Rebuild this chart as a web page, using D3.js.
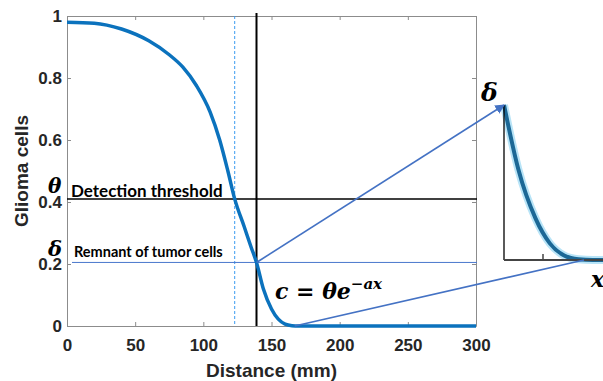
<!DOCTYPE html>
<html>
<head>
<meta charset="utf-8">
<script src="https://cdn.jsdelivr.net/npm/d3@7/dist/d3.min.js"></script>
<style>
  body { margin: 0; background: #fff; }
  svg { display: block; }
  .tick text { font-family: Arial, "Liberation Sans", sans-serif; font-weight: bold; font-size: 17px; fill: #262626; }
</style>
</head>
<body>
<div id="chart"></div>
<script>
// curve: distance (mm) vs glioma cells
const distance = [0, 20, 40, 60, 75, 85, 95, 105, 112, 118, 123, 130, 135, 139, 144, 150, 155, 160, 165, 170, 200, 250, 300];
const cells    = [0.98, 0.977, 0.958, 0.92, 0.875, 0.835, 0.775, 0.69, 0.6, 0.5, 0.41, 0.32, 0.255, 0.205, 0.12, 0.055, 0.022, 0.006, 0.001, 0, 0, 0, 0];
const xTicks = [0, 50, 100, 150, 200, 250, 300];
const yTicks = [0, 0.2, 0.4, 0.6, 0.8, 1];
const theta = 0.41;      // detection threshold
const delta = 0.205;     // remnant of tumor cells
const xDetect = 123;     // dashed line
const xResect = 139;     // black line
const xZero = 167;       // where the curve reaches zero

const W = 603, H = 381;
const m = { left: 67, right: 476, top: 16, bottom: 326 };

const svg = d3.select("#chart").append("svg")
    .attr("width", W).attr("height", H);

const x = d3.scaleLinear().domain([0, 300]).range([m.left, m.right]);
const y = d3.scaleLinear().domain([0, 1]).range([m.bottom, m.top]);

const data = distance.map((d, i) => ({ x: d, y: cells[i] }));

// axes, MATLAB box style with inward ticks
const axisStyle = g => {
    g.select(".domain").attr("stroke", "#8c8c8c").attr("stroke-width", 1);
    g.selectAll(".tick line").attr("stroke", "#8c8c8c");
};
svg.append("g").attr("transform", `translate(0,${m.bottom})`)
    .call(d3.axisBottom(x).tickValues(xTicks).tickSizeInner(-4).tickSizeOuter(0).tickPadding(13))
    .call(axisStyle);
svg.append("g").attr("transform", `translate(${m.left},0)`)
    .call(d3.axisLeft(y).tickValues(yTicks).tickFormat(d3.format("")).tickSizeInner(-4).tickSizeOuter(0).tickPadding(5))
    .call(axisStyle);
svg.append("g").attr("transform", `translate(0,${m.top})`)
    .call(d3.axisTop(x).tickValues(xTicks).tickFormat("").tickSizeInner(-4).tickSizeOuter(0))
    .call(axisStyle);
svg.append("g").attr("transform", `translate(${m.right},0)`)
    .call(d3.axisRight(y).tickValues(yTicks).tickFormat("").tickSizeInner(-4).tickSizeOuter(0))
    .call(axisStyle);

// axis titles
svg.append("text")
    .attr("x", (m.left + m.right) / 2).attr("y", 377)
    .attr("text-anchor", "middle")
    .style("font-family", "Arial, 'Liberation Sans', sans-serif")
    .style("font-weight", "bold").style("font-size", "19px").attr("fill", "#262626")
    .text("Distance (mm)");
svg.append("text")
    .attr("transform", `translate(28,${(m.top + m.bottom) / 2}) rotate(-90)`)
    .attr("text-anchor", "middle")
    .style("font-family", "Arial, 'Liberation Sans', sans-serif")
    .style("font-weight", "bold").style("font-size", "19px").attr("fill", "#262626")
    .text("Glioma cells");

// reference lines
svg.append("line")
    .attr("x1", x(xDetect)).attr("x2", x(xDetect))
    .attr("y1", m.top).attr("y2", m.bottom)
    .attr("stroke", "#3c9cf0").attr("stroke-width", 1).attr("stroke-dasharray", "3,2");
svg.append("line")
    .attr("x1", x(xResect)).attr("x2", x(xResect))
    .attr("y1", m.top - 3).attr("y2", m.bottom)
    .attr("stroke", "#000").attr("stroke-width", 2);
svg.append("line")
    .attr("x1", m.left).attr("x2", m.right + 1)
    .attr("y1", y(theta)).attr("y2", y(theta))
    .attr("stroke", "#000").attr("stroke-width", 1.5);
svg.append("line")
    .attr("x1", 72).attr("x2", m.right + 1)
    .attr("y1", y(delta)).attr("y2", y(delta))
    .attr("stroke", "#4a78cc").attr("stroke-width", 1);

// the curve
const line = d3.line().x(d => x(d.x)).y(d => y(d.y)).curve(d3.curveMonotoneX);
svg.append("path").datum(data)
    .attr("d", line)
    .attr("fill", "none").attr("stroke", "#0b72bd").attr("stroke-width", 3.5);

// inset: zoom on the tail of the curve
const inset = { left: 504, right: 610, top: 105, bottom: 260 };
const xi = d3.scaleLinear().domain([xResect, 176]).range([inset.left, inset.right]);
const yi = d3.scaleLinear().domain([0, delta]).range([inset.bottom, inset.top]);
const tail = data.filter(d => d.x >= xResect && d.x <= 200);
const insetLine = d3.line().x(d => xi(d.x)).y(d => yi(d.y)).curve(d3.curveMonotoneX);

svg.append("path").datum(tail)
    .attr("d", insetLine)
    .attr("fill", "none").attr("stroke", "#b8e4f7").attr("stroke-width", 8);
svg.append("path").datum(tail)
    .attr("d", insetLine)
    .attr("fill", "none").attr("stroke", "#1c6896").attr("stroke-width", 4);
svg.append("line")
    .attr("x1", inset.left).attr("x2", inset.left)
    .attr("y1", inset.top).attr("y2", inset.bottom)
    .attr("stroke", "#000").attr("stroke-width", 1.3);
svg.append("line")
    .attr("x1", inset.left).attr("x2", W)
    .attr("y1", inset.bottom).attr("y2", inset.bottom)
    .attr("stroke", "#444").attr("stroke-width", 2);
svg.append("line")
    .attr("x1", 543).attr("x2", 543)
    .attr("y1", inset.bottom).attr("y2", inset.bottom - 6)
    .attr("stroke", "#444").attr("stroke-width", 1.5);

// connector arrows
svg.append("defs").append("marker")
    .attr("id", "arrow").attr("viewBox", "0 0 10 10")
    .attr("refX", 9).attr("refY", 5)
    .attr("markerWidth", 6).attr("markerHeight", 6)
    .attr("orient", "auto")
    .append("path").attr("d", "M0,0L10,5L0,10z").attr("fill", "#4472c4");
svg.append("line")
    .attr("x1", x(xResect)).attr("y1", y(delta))
    .attr("x2", inset.left).attr("y2", inset.top)
    .attr("stroke", "#4472c4").attr("stroke-width", 1.6)
    .attr("marker-end", "url(#arrow)");
svg.append("line")
    .attr("x1", x(xZero)).attr("y1", y(0))
    .attr("x2", 584).attr("y2", inset.bottom)
    .attr("stroke", "#4472c4").attr("stroke-width", 1.6);

// annotations
const serif = "'DejaVu Serif', 'Liberation Serif', serif";
const calibri = "Lato, 'Open Sans', sans-serif";
svg.append("text").attr("x", 48).attr("y", 193)
    .style("font-family", serif).style("font-style", "italic").style("font-weight", "bold")
    .style("font-size", "20px").text("θ");
svg.append("text").attr("x", 71).attr("y", 197)
    .style("font-family", calibri).style("font-weight", "bold")
    .style("font-size", "17px").text("Detection threshold");
svg.append("text").attr("x", 48).attr("y", 256)
    .style("font-family", serif).style("font-style", "italic").style("font-weight", "bold")
    .style("font-size", "21px").text("δ");
svg.append("text").attr("x", 74).attr("y", 257)
    .style("font-family", calibri).style("font-weight", "bold")
    .style("font-size", "14.5px").text("Remnant of tumor cells");

const eq = svg.append("text").attr("x", 275).attr("y", 299)
    .style("font-family", serif).style("font-style", "italic").style("font-weight", "bold")
    .style("font-size", "22px");
eq.append("tspan").text("c = θe");
eq.append("tspan").attr("dy", -10).style("font-size", "15px").text("−ax");

svg.append("text").attr("x", 481).attr("y", 101)
    .style("font-family", serif).style("font-style", "italic").style("font-weight", "bold")
    .style("font-size", "25px").text("δ");
svg.append("text").attr("x", 591).attr("y", 287)
    .style("font-family", serif).style("font-style", "italic").style("font-weight", "bold")
    .style("font-size", "22px").text("x");
</script>
</body>
</html>
